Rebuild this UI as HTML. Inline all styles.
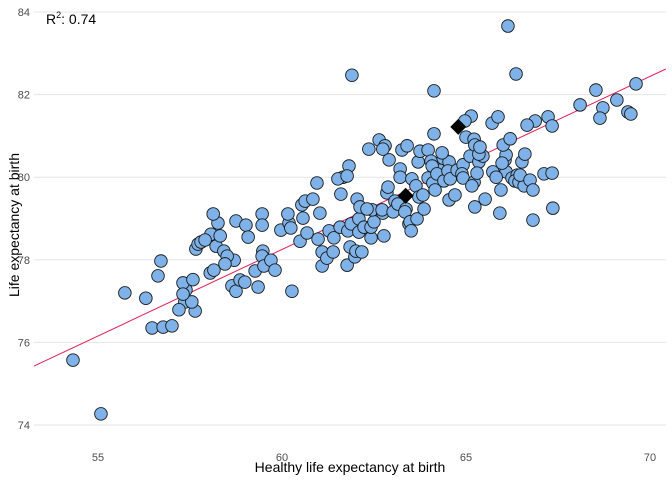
<!DOCTYPE html>
<html><head><meta charset="utf-8"><style>
body{margin:0;background:#fff}
svg{display:block;font-family:"Liberation Sans",sans-serif}
</style></head><body>
<svg id="chart" width="672" height="480"></svg>
<script>
const xTicks=[55,60,65,70];
const yTicks=[74,76,78,80,82,84];
const xVals=[54.32,55.08,55.73,56.47,56.30,56.63,56.71,56.77,57.36,57.39,57.01,57.20,57.31,57.64,57.58,57.55,57.66,57.31,57.72,57.80,58.05,58.07,58.21,58.26,58.42,58.13,58.70,58.64,58.75,59.02,59.08,58.75,58.86,58.99,59.27,59.35,58.32,57.91,58.51,58.15,58.45,59.46,59.48,59.46,59.51,59.46,59.70,59.97,59.81,60.19,60.16,60.24,60.27,60.49,60.54,60.63,60.68,60.57,60.84,60.98,60.95,61.09,61.03,61.09,61.22,61.28,61.39,61.41,61.60,61.66,61.58,61.52,61.82,61.79,61.85,61.77,61.77,61.88,61.90,61.98,62.01,62.04,62.09,62.09,62.12,62.17,62.23,62.42,62.42,62.50,62.45,62.74,62.85,62.88,62.64,62.36,62.72,62.77,62.31,63.07,63.02,62.80,62.91,62.74,63.15,63.21,63.26,63.37,63.34,63.21,63.45,63.48,63.67,63.40,63.51,63.53,63.64,63.72,63.70,63.75,63.83,63.86,63.97,63.97,64.05,64.13,64.13,64.10,64.29,64.38,64.54,64.16,64.08,64.21,64.35,64.40,64.54,64.51,64.57,64.70,64.76,64.92,65.00,64.89,64.92,65.11,65.22,65.35,65.46,65.52,65.24,65.16,65.22,65.24,65.14,64.97,65.30,65.35,65.38,65.71,65.73,65.87,66.09,65.82,66.06,66.09,66.01,65.98,66.25,66.39,66.33,65.92,66.14,66.36,66.44,66.58,66.52,66.60,66.47,66.74,66.82,66.82,67.12,67.23,66.88,66.66,67.34,66.20,65.95,67.36,67.34,68.10,68.53,68.72,68.64,69.10,69.40,69.48,69.62];
const yVals=[75.57,74.27,77.20,76.35,77.07,77.61,77.97,76.37,76.98,77.27,76.40,76.79,77.44,76.76,77.52,76.98,78.26,77.17,78.38,78.43,77.68,78.62,78.33,78.89,78.21,79.11,77.99,77.37,78.94,78.84,78.55,77.24,77.51,77.46,77.73,77.34,78.58,78.48,78.09,77.75,77.90,79.11,78.21,78.09,77.85,78.84,77.99,78.72,77.75,78.89,79.11,78.77,77.24,78.45,79.33,79.42,78.65,79.01,79.47,78.50,79.86,77.85,79.13,78.19,78.04,78.70,78.19,78.53,79.59,80.00,78.79,79.96,80.27,78.70,78.31,77.87,80.03,78.87,82.47,78.07,78.21,79.47,78.99,78.67,79.28,78.19,78.79,78.53,78.79,78.92,79.21,79.13,79.62,79.76,80.90,80.68,79.21,78.58,79.23,79.42,79.16,80.76,80.42,80.68,79.35,80.20,80.66,79.23,79.16,80.00,78.87,78.92,78.99,80.76,78.70,79.96,79.79,79.52,80.37,80.63,79.57,79.23,79.98,80.66,80.39,81.05,82.09,79.86,80.17,80.46,80.37,79.69,80.27,80.08,80.59,79.91,79.45,80.15,79.96,79.57,80.17,80.30,80.97,80.08,79.98,80.51,79.88,80.37,80.51,79.47,79.28,79.79,80.92,80.78,81.48,81.36,80.10,80.56,80.73,81.31,80.13,81.46,80.13,80.00,80.42,80.54,80.78,80.34,79.98,80.05,79.91,79.13,83.66,82.50,79.88,79.79,80.37,80.56,80.05,79.93,78.96,79.69,80.08,81.46,81.36,81.26,81.24,80.93,79.69,79.25,80.10,81.75,82.11,81.68,81.43,81.87,81.58,81.53,82.26];
const hlX=[63.36,64.79];
const hlY=[79.55,81.22];
const slope=0.419, intercept=53.11;
const r2Label="0.74";

const NS="http://www.w3.org/2000/svg";
const svg=document.getElementById('chart');
const x=v=>98+(v-55)*36.8;
const y=v=>12+(84-v)*41.3;
const L=34,R=666,T=0,B=450;
function mk(t,a,p){const e=document.createElementNS(NS,t);for(const k in a)e.setAttribute(k,a[k]);(p||svg).appendChild(e);return e;}
yTicks.forEach(t=>{
  const g=mk('line',{x1:L,x2:R,y1:y(t),y2:y(t),stroke:'#e5e5e5','stroke-width':1});
  
  
  const tx=mk('text',{x:30,y:y(t)+4,'text-anchor':'end','font-size':11,fill:'#4d4d4d'});
  tx.textContent=t;
  
  
});
xTicks.forEach(t=>{
  const tx=mk('text',{x:x(t),y:461,'text-anchor':'middle','font-size':11,fill:'#4d4d4d'});
  tx.textContent=t;
  
  
});
const x0=53.26,x1=70.43;
const ln=mk('line',{x1:x(x0),y1:y(intercept+slope*x0),x2:x(x1),y2:y(intercept+slope*x1),stroke:'#e0205a','stroke-width':1});


xVals.forEach((v,i)=>{
  const c=mk('circle',{cx:x(v),cy:y(yVals[i]),r:6.3,fill:'#7eb2e8',stroke:'#1a1a1a','stroke-width':0.9});
  
  
});
hlX.forEach((v,i)=>{
  const cx=x(v),cy=y(hlY[i]),s=8;
  const d=mk('polygon',{points:`${cx},${cy-s} ${cx+s},${cy} ${cx},${cy+s} ${cx-s},${cy}`,fill:'#000'});
  
  
});
const r2=mk('text',{x:46,y:24,'font-size':14,fill:'#000'});
r2.innerHTML='R<tspan dy="-6" font-size="9">2</tspan><tspan dy="6">: '+r2Label+'</tspan>';


const xt=mk('text',{x:350,y:472,'text-anchor':'middle','font-size':14,fill:'#000'});
xt.textContent='Healthy life expectancy at birth';


const yt=mk('text',{x:0,y:0,'text-anchor':'middle','font-size':14,fill:'#000',transform:'translate(19,225) rotate(-90)'});
yt.textContent='Life expectancy at birth';


</script>
</body></html>
